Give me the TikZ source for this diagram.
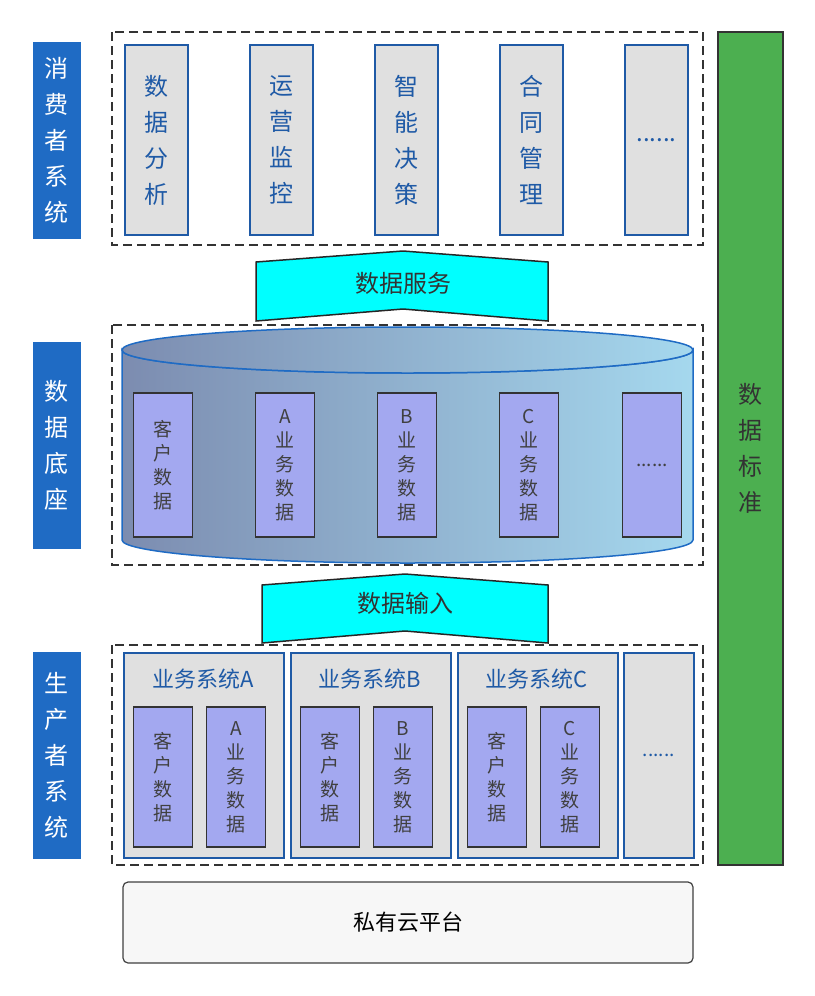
\documentclass[tikz,border=0pt]{standalone}
\usepackage{fontspec}
\setmainfont{Noto Sans CJK SC}
\usetikzlibrary{positioning}
\definecolor{labelblue}{HTML}{1F6BC4}
\definecolor{textblue}{HTML}{1F5AA6}
\definecolor{grayfill}{HTML}{E0E0E0}
\definecolor{purplefill}{HTML}{A3A8F0}
\definecolor{greenbar}{HTML}{4CAF50}
\definecolor{flowcyan}{HTML}{00FFFF}
\definecolor{cylleft}{HTML}{7C8CB0}
\definecolor{cylright}{HTML}{A5D8EE}
\begin{document}
\begin{tikzpicture}[x=1pt,y=-1pt]
        \tikzset{label/.style={draw=labelblue,fill=labelblue,text=white,
                align=center,minimum width=47pt,
                font=\fontsize{24}{36}\selectfont},
            app/.style={draw=textblue,line width=1.5pt,fill=grayfill,text=textblue,
                align=center,minimum width=63pt,minimum height=190pt,
                font=\fontsize{24}{36}\selectfont},
            datum/.style={draw=black!80,line width=1.8pt,fill=purplefill,text=black!75,
                align=center,minimum width=59pt,
                font=\fontsize{19}{24}\selectfont},
            sub/.style={draw=textblue,line width=1.5pt,fill=grayfill,text=textblue,
                minimum height=205pt},
            frame/.style={draw=black!80,dashed,line width=1.5pt,dash pattern=on 9pt off 5pt},
            flow/.style={draw=black!85,line width=1.5pt,fill=flowcyan},
        }
        \useasboundingbox (0,0) rectangle (814,996);
%% frames
\draw[frame] (112,32) rectangle (703,245);
\draw[frame] (112,325) rectangle (703,565);
\draw[frame] (112,645) rectangle (703,865);
%% side labels
\node[label,minimum height=196pt] (consumer) at (56.5,140) {消\\费\\者\\系\\统};
\node[label,minimum height=206pt] (base) at (56.5,445) {数\\据\\底\\座};
\node[label,minimum height=206pt] (producer) at (56.5,755) {生\\产\\者\\系\\统};
\node[draw=black!80,line width=1.2pt,fill=greenbar,minimum width=65pt,minimum height=833pt,
    align=center,text=black!80,font=\fontsize{24}{36}\selectfont] (standard) at (750.5,448.5) {数\\据\\标\\准};
%% consumer apps
\node[app] (analysis) at (156.5,140) {数\\据\\分\\析};
\node[app] (monitor) at (281.5,140) {运\\营\\监\\控};
\node[app] (decision) at (406.5,140) {智\\能\\决\\策};
\node[app] (contract) at (531.5,140) {合\\同\\管\\理};
\node[app] (moreapp) at (656.5,140) {......};
%% flows
\draw[flow] (256,262) -- (403,251) -- (548,262) -- (548,321) -- (403,309) -- (256,321) -- cycle;
\node[font=\fontsize{24}{28}\selectfont,text=black!80] (service) at (403,283) {数据服务};
\draw[flow] (262,585) -- (405,574) -- (548,585) -- (548,643) -- (405,631) -- (262,643) -- cycle;
\node[font=\fontsize{24}{28}\selectfont,text=black!80] (input) at (405,603) {数据输入};
%% cylinder
\shade[left color=cylleft,right color=cylright,draw=labelblue,line width=1.5pt]
    (122,350) -- (122,540) arc[start angle=180,end angle=360,x radius=285.5,y radius=-23]
    -- (693,350) arc[start angle=0,end angle=180,x radius=285.5,y radius=23] -- cycle;
\shade[left color=cylleft,right color=cylright,draw=labelblue,line width=1.5pt]
    (407.5,350) ellipse[x radius=285.5,y radius=23];
\node[datum,minimum height=144pt] (customer) at (163,465) {客\\户\\数\\据};
\node[datum,minimum height=144pt] (adata) at (285,465) {A\\业\\务\\数\\据};
\node[datum,minimum height=144pt] (bdata) at (407,465) {B\\业\\务\\数\\据};
\node[datum,minimum height=144pt] (cdata) at (529,465) {C\\业\\务\\数\\据};
\node[datum,minimum height=144pt] (moredata) at (652,465) {......};
%% producer systems
\foreach \x/\n in {123/A,290/B,457/C}{
    \node[sub,minimum width=160pt,anchor=north west] (sys\n) at (\x,652) {};
    \node[text=textblue,font=\fontsize{22}{26}\selectfont] (title\n) at (\x+80,679) {业务系统\n};
    \node[datum,minimum height=140pt] (cust\n) at (\x+40,777) {客\\户\\数\\据};
    \node[datum,minimum height=140pt] (own\n) at (\x+113,777) {\n\\业\\务\\数\\据};
}
\node[sub,minimum width=70pt,anchor=north west,text=textblue,font=\fontsize{19}{24}\selectfont] (moresys) at (623,652) {......};
%% platform
\node[draw=black!75,line width=1.2pt,fill=black!3,rounded corners=5pt,minimum width=570pt,
    minimum height=81pt,font=\fontsize{22}{26}\selectfont] (cloud) at (408,922.5) {私有云平台};
\end{tikzpicture}
\end{document}
